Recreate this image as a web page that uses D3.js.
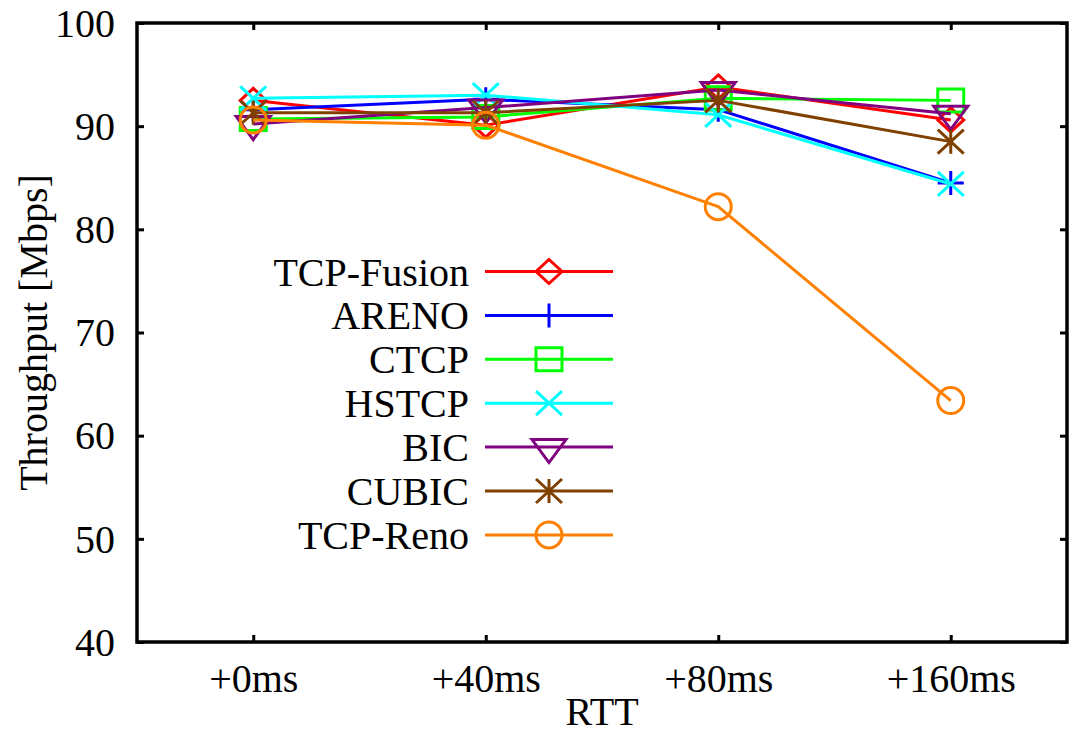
<!DOCTYPE html>
<html><head><meta charset="utf-8">
<script src="https://cdn.jsdelivr.net/npm/d3@7"></script>
<style>html,body{margin:0;padding:0;background:#fff;} svg text{font-family:"Liberation Serif","Times New Roman",Tinos,"DejaVu Serif",serif !important;}</style>
</head><body>
<svg id="c" width="1076" height="734"></svg>
<script>
const categories = ["+0ms", "+40ms", "+80ms", "+160ms"];
const seriesNames = ["TCP-Fusion", "ARENO", "CTCP", "HSTCP", "BIC", "CUBIC", "TCP-Reno"];
const fusion = [92.5, 90.1, 93.8, 90.6];
const areno  = [91.6, 92.6, 91.6, 84.5];
const ctcp   = [90.7, 90.9, 92.7, 92.5];
const hstcp  = [92.7, 93.0, 91.1, 84.4];
const bic    = [90.2, 91.8, 93.5, 91.2];
const cubic  = [91.3, 91.3, 92.5, 88.5];
const reno   = [90.6, 90.1, 82.2, 63.4];
const yTicks = [40, 50, 60, 70, 80, 90, 100];

const seriesValues = [fusion, areno, ctcp, hstcp, bic, cubic, reno];
const colors = ["#ff0000", "#0000ff", "#00ff00", "#00ffff", "#800080", "#804000", "#ff8000"];
const markers = ["diamond", "plus", "square", "cross", "tridown", "star", "circle"];

const L = 137, R = 1067, T = 23, B = 642;
const FONT = "'Liberation Serif', 'Times New Roman', Tinos, 'DejaVu Serif', serif";
const svg = d3.select("#c");

const x = d3.scalePoint().domain(categories).range([L, R]).padding(0.5);
const y = d3.scaleLinear().domain([40, 100]).range([B, T]);

function markerPath(type) {
  const p = d3.path();
  if (type === "diamond") { p.moveTo(0,-12); p.lineTo(13,0); p.lineTo(0,12); p.lineTo(-13,0); p.closePath(); }
  else if (type === "plus") { p.moveTo(-13,0); p.lineTo(13,0); p.moveTo(0,-12); p.lineTo(0,12); }
  else if (type === "square") { p.rect(-13,-11.5,26,23); }
  else if (type === "cross") { p.moveTo(-13,-12); p.lineTo(13,12); p.moveTo(-13,12); p.lineTo(13,-12); }
  else if (type === "tridown") { p.moveTo(-17,-7.5); p.lineTo(17,-7.5); p.lineTo(0,15.5); p.closePath(); }
  else if (type === "star") { p.moveTo(0,-12); p.lineTo(0,12); p.moveTo(-13,-12); p.lineTo(13,12); p.moveTo(-13,12); p.lineTo(13,-12); }
  else if (type === "circle") { p.arc(0,0,13,0,2*Math.PI); p.closePath(); }
  return p.toString();
}

const gy = svg.append("g").attr("transform", `translate(${L},0)`)
  .call(d3.axisLeft(y).tickValues(yTicks).tickSize(-7).tickPadding(22).tickFormat(d3.format("d")));
const gyr = svg.append("g").attr("transform", `translate(${R},0)`)
  .call(d3.axisRight(y).tickValues(yTicks).tickSize(-7).tickFormat(""));
const gx = svg.append("g").attr("transform", `translate(0,${B})`)
  .call(d3.axisBottom(x).tickSize(-7).tickPadding(22));
const gxt = svg.append("g").attr("transform", `translate(0,${T})`)
  .call(d3.axisTop(x).tickSize(-7).tickFormat(""));
[gy, gyr, gx, gxt].forEach(g => {
  g.attr("font-family", FONT).attr("font-size", 40);
  g.select(".domain").remove();
  g.selectAll(".tick line").attr("stroke", "#000").attr("stroke-width", 3);
  g.selectAll("text").attr("fill", "#000");
});
gy.selectAll("text").attr("dy", "0.33em");
gx.selectAll("text").attr("dy", "0.71em");

svg.append("rect").attr("x", L).attr("y", T).attr("width", R - L).attr("height", B - T)
  .attr("fill", "none").attr("stroke", "#000").attr("stroke-width", 3.5);

svg.append("text").attr("x", (L + R) / 2).attr("y", 725).attr("text-anchor", "middle")
  .attr("font-family", FONT).attr("font-size", 40).text("RTT");
svg.append("text").attr("transform", `translate(47,${(T + B) / 2}) rotate(-90)`).attr("text-anchor", "middle")
  .attr("font-family", FONT).attr("font-size", 40).text("Throughput [Mbps]");

const legX0 = 485, legX1 = 613, legMark = 549, legText = 469, legY0 = 271.5, legStep = 43.9;
const line = d3.line().x((d, i) => x(categories[i])).y(d => y(d));

seriesNames.forEach((name, k) => {
  const col = colors[k];
  const ly = legY0 + k * legStep;
  const lg = svg.append("g");
  lg.append("text").attr("x", legText).attr("y", ly).attr("dy", "0.35em").attr("text-anchor", "end")
    .attr("font-family", FONT).attr("font-size", 40).text(name);
  lg.append("line").attr("x1", legX0).attr("x2", legX1).attr("y1", ly).attr("y2", ly)
    .attr("stroke", col).attr("stroke-width", 3);
  lg.append("path").attr("d", markerPath(markers[k])).attr("transform", `translate(${legMark},${ly})`)
    .attr("fill", "none").attr("stroke", col).attr("stroke-width", 3);

  const g = svg.append("g");
  g.append("path").datum(seriesValues[k]).attr("d", line)
    .attr("fill", "none").attr("stroke", col).attr("stroke-width", 3).attr("stroke-linejoin", "round");
  g.selectAll("path.m").data(seriesValues[k]).join("path").attr("class", "m")
    .attr("d", markerPath(markers[k]))
    .attr("transform", (d, i) => `translate(${x(categories[i])},${y(d)})`)
    .attr("fill", "none").attr("stroke", col).attr("stroke-width", 3);
});
</script>
</body></html>
